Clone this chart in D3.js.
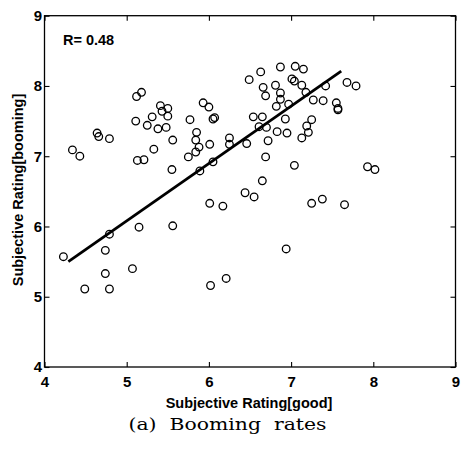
<!DOCTYPE html>
<html><head><meta charset="utf-8">
<script src="https://cdn.jsdelivr.net/npm/d3@7"></script>
<style>body{margin:0;background:#fff}</style>
</head><body><svg id="c" width="465" height="455"></svg>
<script>
const goodRating = [4.34,4.43,4.64,4.66,4.79,5.12,5.18,5.11,5.25,5.31,
  5.41,5.43,5.50,5.50,5.38,5.48,5.56,5.33,5.13,5.21,
  5.55,5.77,5.93,6.00,6.05,6.07,5.85,5.84,5.88,5.75,
  5.84,6.01,5.89,6.05,6.25,6.25,6.46,6.49,6.54,6.61,
  6.63,6.01,6.17,6.44,6.55,6.65,6.65,6.66,6.69,6.70,
  6.72,6.69,6.81,6.87,6.87,6.87,6.82,6.97,6.93,6.83,
  6.95,7.05,7.15,7.01,7.04,7.13,7.18,7.04,7.13,7.19,
  7.21,7.25,7.27,7.39,7.42,7.68,7.79,7.55,7.57,7.57,
  7.93,8.02,7.25,7.38,7.65,6.94,
  4.23,4.79,4.74,4.74,4.49,4.79,5.15,5.07,5.56,6.02,6.21];
const boomingRating = [7.09,7.00,7.33,7.28,7.25,7.85,7.91,7.50,7.44,7.56,
  7.72,7.64,7.68,7.57,7.39,7.41,7.23,7.10,6.94,6.95,
  6.81,7.52,7.76,7.70,7.53,7.55,7.34,7.23,7.13,6.99,
  7.06,7.17,6.79,6.92,7.26,7.17,7.18,8.09,7.56,7.42,
  8.20,6.33,6.29,6.48,6.42,6.65,7.56,7.98,7.86,7.41,
  7.22,6.99,8.01,8.27,7.90,7.81,7.71,7.74,7.53,7.35,
  7.33,8.28,8.24,8.10,8.07,8.01,7.91,6.87,7.26,7.43,
  7.34,7.52,7.80,7.79,8.00,8.05,8.00,7.76,7.68,7.66,
  6.85,6.81,6.33,6.39,6.31,5.68,
  5.57,5.89,5.66,5.33,5.11,5.11,5.99,5.40,6.01,5.16,5.26];
const fitGood = [4.29, 7.61];
const fitBooming = [5.50, 8.21];
const xTicks = [4,5,6,7,8,9];
const yTicks = [4,5,6,7,8,9];
const rText = "R= 0.48";
const xTitle = "Subjective Rating[good]";
const yTitle = "Subjective Rating[booming]";
const caption = "(a)  Booming  rates";

const svg = d3.select("#c");
const x = d3.scaleLinear().domain([4,9]).range([44.5,455.5]);
const y = d3.scaleLinear().domain([4,9]).range([367,15.7]);
const font = "'Liberation Sans', Arial, sans-serif";

// frame
svg.append("rect").attr("x",x(4)).attr("y",y(9))
  .attr("width",x(9)-x(4)).attr("height",y(4)-y(9))
  .attr("fill","none").attr("stroke","#000").attr("stroke-width",1.3);

function styleAxis(g){
  g.select(".domain").remove();
  g.selectAll("line").attr("stroke","#000").attr("stroke-width",1.1);
  g.selectAll("text").attr("font-family",font).attr("font-weight","bold")
   .attr("font-size",15).attr("fill","#000");
}
svg.append("g").attr("transform",`translate(0,${y(4)})`)
  .call(d3.axisBottom(x).tickValues(xTicks).tickFormat(d3.format("d")).tickSize(-5).tickPadding(9.5))
  .call(styleAxis);
svg.append("g").attr("transform",`translate(${x(4)},0)`)
  .call(d3.axisLeft(y).tickValues(yTicks).tickFormat(d3.format("d")).tickSize(-5).tickPadding(2.5))
  .call(styleAxis);
svg.append("g").attr("transform",`translate(0,${y(9)})`)
  .call(d3.axisTop(x).tickValues(xTicks).tickFormat("").tickSize(-5))
  .call(styleAxis);
svg.append("g").attr("transform",`translate(${x(9)},0)`)
  .call(d3.axisRight(y).tickValues(yTicks).tickFormat("").tickSize(-5))
  .call(styleAxis);

// points
const pts = goodRating.map((g,i)=>({g, b: boomingRating[i]}));
svg.append("g").selectAll("circle").data(pts).join("circle")
  .attr("cx",d=>x(d.g)).attr("cy",d=>y(d.b)).attr("r",3.8)
  .attr("fill","none").attr("stroke","#000").attr("stroke-width",1.3);

// fit line
svg.append("path")
  .datum(fitGood.map((g,i)=>[g,fitBooming[i]]))
  .attr("d", d3.line().x(d=>x(d[0])).y(d=>y(d[1])))
  .attr("stroke","#000").attr("stroke-width",2.8).attr("fill","none");

svg.append("text").attr("x",63).attr("y",45).text(rText)
  .attr("font-family",font).attr("font-weight","bold").attr("font-size",14.5);

svg.append("text").attr("x",249).attr("y",408).attr("text-anchor","middle")
  .text(xTitle).attr("font-family",font).attr("font-weight","bold").attr("font-size",14.5);

svg.append("text").attr("transform","translate(23,190) rotate(-90)")
  .attr("text-anchor","middle").text(yTitle)
  .attr("font-family",font).attr("font-weight","bold").attr("font-size",14.5);

svg.append("text").attr("x",227.5).attr("y",430).attr("text-anchor","middle")
  .attr("font-family","'DejaVu Serif','Liberation Serif',serif").attr("font-size",17)
  .attr("textLength",198).attr("lengthAdjust","spacingAndGlyphs")
  .style("white-space","pre").text(caption);
</script>
</body></html>
